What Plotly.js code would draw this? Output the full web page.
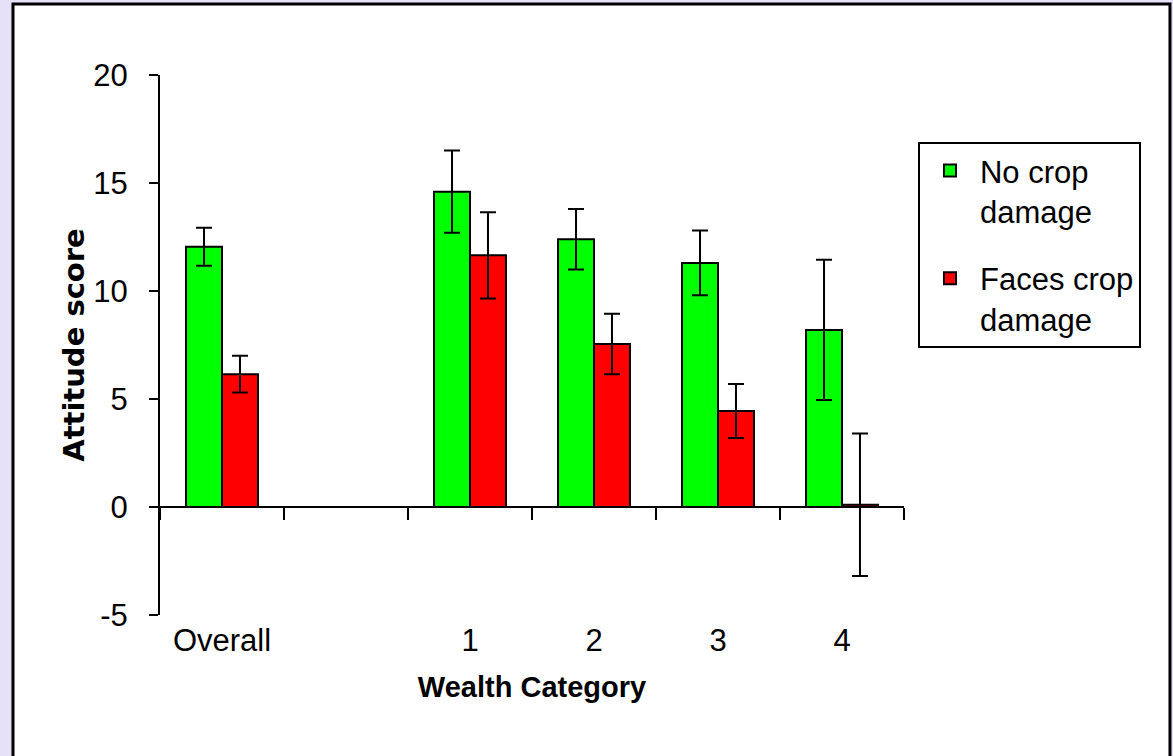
<!DOCTYPE html>
<html>
<head>
<meta charset="utf-8">
<script src="https://cdn.plot.ly/plotly-3.0.1.min.js"></script>
<style>html,body{margin:0;padding:0;background:#E6E1F8;}#chart{width:1173px;height:756px;}</style>
</head>
<body>
<div id="chart"></div>
<script>
// Data
var categories = ["Overall", "", "1", "2", "3", "4"];
var noDamage = [12.05, null, 14.6, 12.4, 11.3, 8.2];
var noDamageErr = [0.88, null, 1.9, 1.4, 1.5, 3.25];
var facesDamage = [6.15, null, 11.65, 7.55, 4.45, 0.1];
var facesDamageErr = [0.85, null, 2.0, 1.4, 1.25, 3.3];
var yTicks = [-5, 0, 5, 10, 15, 20];
var yTickLabels = ["-5", "0", "5", "10", "15", "20"];
var seriesNames = ["No crop<br>damage", "Faces crop<br>damage"];

var xIdx = categories.map(function (c, i) { return i; });
var boundaries = [];
for (var i = 0; i <= categories.length; i++) boundaries.push(i - 0.5);

var arial = "Liberation Sans, Arial, sans-serif";

var traces = [
  {
    type: "bar", name: seriesNames[0], legendgroup: "g1", x: xIdx, y: noDamage,
    marker: {color: "#00FF00", line: {color: "#000000", width: 2}},
    error_y: {type: "data", array: noDamageErr, visible: true, color: "#000000", thickness: 2, width: 8}
  },
  {
    type: "bar", name: seriesNames[1], legendgroup: "g2", x: xIdx, y: facesDamage,
    marker: {color: "#FF0000", line: {color: "#000000", width: 2}},
    error_y: {type: "data", array: facesDamageErr, visible: true, color: "#000000", thickness: 2, width: 8}
  }
];

var layout = {
  width: 1173, height: 756,
  margin: {l: 160, r: 269, t: 75, b: 141},
  paper_bgcolor: "#E6E1F8",
  plot_bgcolor: "rgba(0,0,0,0)",
  barmode: "group", bargap: 0.42, bargroupgap: 0,
  showlegend: true,
  shapes: [{
    type: "rect", xref: "paper", yref: "paper", layer: "below",
    x0: -0.1976, x1: 1.3575, y0: -0.30, y1: 1.1315,
    fillcolor: "#FFFFFF", line: {color: "#000000", width: 3}
  }],
  xaxis: {
    type: "linear", range: [-0.5, categories.length - 0.5],
    anchor: "free", position: 0.2,
    tickmode: "array", tickvals: xIdx, ticktext: categories,
    ticks: "", showline: true, linecolor: "#000000", linewidth: 2,
    showgrid: false, zeroline: false,
    ticklabelstandoff: 106,
    tickfont: {family: arial, size: 31, color: "#000000"},
    minor: {tickmode: "array", tickvals: boundaries, ticks: "outside", ticklen: 12, tickwidth: 2, tickcolor: "#000000", showgrid: false},
    title: {text: "<b>Wealth Category</b>", standoff: 18, font: {family: arial, size: 29, color: "#000000"}}
  },
  yaxis: {
    range: [-5, 20], tickmode: "array", tickvals: yTicks, ticktext: yTickLabels,
    ticks: "outside", ticklen: 9, tickwidth: 2, tickcolor: "#000000",
    showline: true, linecolor: "#000000", linewidth: 2,
    showgrid: false, zeroline: false,
    ticklabelstandoff: 15,
    tickfont: {family: arial, size: 31, color: "#000000"},
    title: {text: "<b>Attitude score</b>", standoff: 0, font: {family: "DejaVu Sans, sans-serif", size: 29, color: "#000000"}}
  },
  legend: {
    x: 1.0188, xanchor: "left", y: 0.876, yanchor: "top",
    bgcolor: "#FFFFFF", bordercolor: "#000000", borderwidth: 2,
    valign: "top", tracegroupgap: 24, itemwidth: 50,
    font: {family: arial, size: 31, color: "#000000"}
  }
};

Plotly.newPlot("chart", traces, layout, {displayModeBar: false, staticPlot: true});
</script>
</body>
</html>
